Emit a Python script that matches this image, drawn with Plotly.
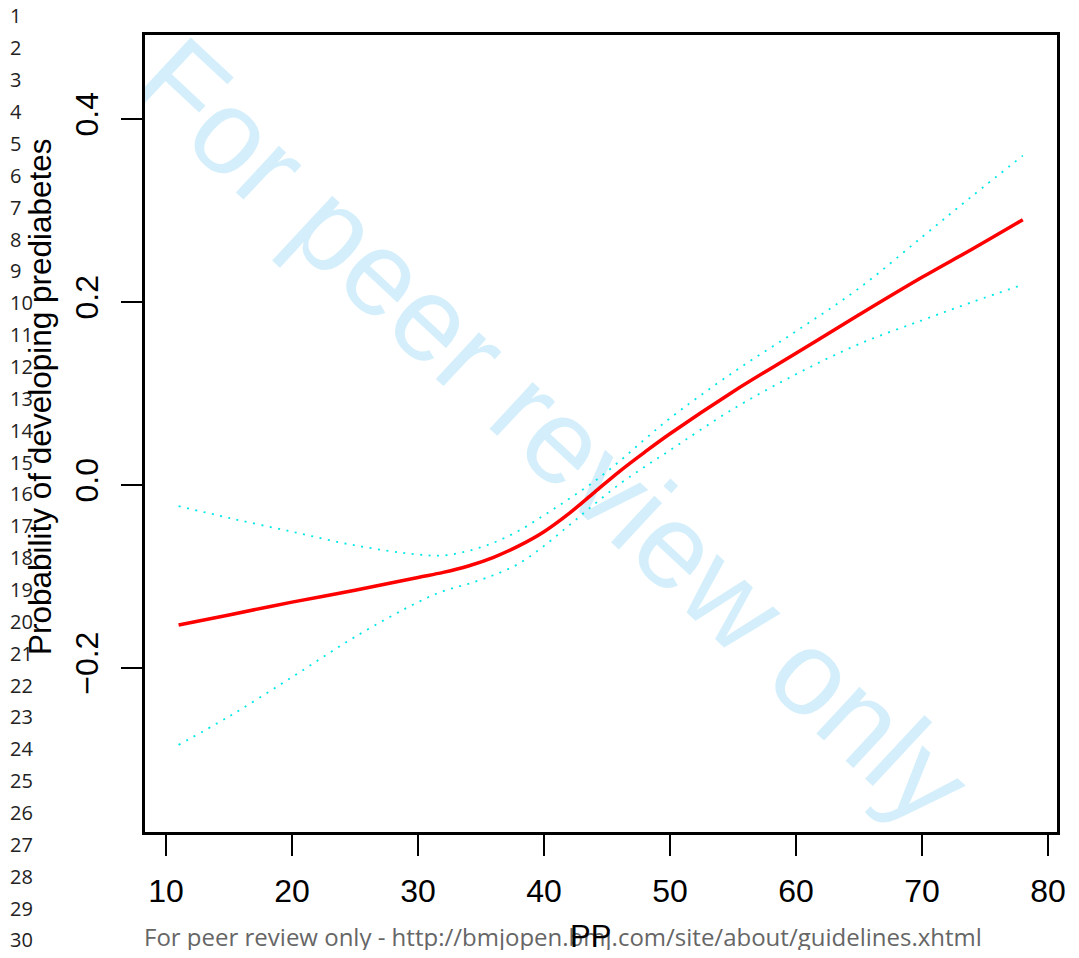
import plotly.graph_objects as go

# ---- data ----
pp = [11, 15, 20, 25, 30, 32, 34, 36, 38, 40, 42, 44, 46, 48, 50, 55, 60, 65, 70, 74, 78]
prob = [-0.153, -0.142, -0.128, -0.115, -0.101, -0.0955, -0.0885, -0.079, -0.0665, -0.051, -0.031, -0.008, 0.015, 0.036, 0.056, 0.102, 0.144, 0.186, 0.227, 0.258, 0.290]
upper = [-0.023, -0.036, -0.051, -0.066, -0.076, -0.077, -0.072, -0.063, -0.050, -0.033, -0.015, 0.004, 0.026, 0.050, 0.073, 0.123, 0.168, 0.215, 0.271, 0.316, 0.360]
lower = [-0.284, -0.253, -0.210, -0.166, -0.128, -0.116, -0.108, -0.0985, -0.086, -0.0665, -0.044, -0.021, 0.001, 0.020, 0.038, 0.083, 0.121, 0.154, 0.180, 0.200, 0.219]

x_ticks = [10, 20, 30, 40, 50, 60, 70, 80]
y_ticks = [-0.2, 0.0, 0.2, 0.4]
y_tick_labels = ["\u22120.2", "0.0", "0.2", "0.4"]
line_numbers = ["1", "2", "3", "4", "5", "6", "7", "8", "9", "10",
                "11", "12", "13", "14", "15", "16", "17", "18", "19", "20",
                "21", "22", "23", "24", "25", "26", "27", "28", "29", "30"]
x_title = "PP"
y_title = "Probability of developing prediabetes"
watermark = "For peer review only"
footer = "For peer review only - http://bmjopen.bmj.com/site/about/guidelines.xhtml"

# page offset (browser body margin) compensation
OFF = 8
W, H = 1079 - 2 * OFF, 958 - 2 * OFF
# plot box in target page pixels: x 145..1057, y 35..832
L = 145 - OFF
T = 35 - OFF
R = W - (1057 - OFF)
B = H - (832 - OFF)
pw, ph = W - L - R, H - T - B

def px_x(p):
    return (p - OFF - L) / pw

def px_y(p):
    return (H - B - (p - OFF)) / ph

# data <-> pixel mapping of the reference (for axis ranges)
def dx(p):
    return 10 + (p - 166) / 12.6

def dy(p):
    return (485 - p) / 915

ci_line = dict(color="#00e8e8", width=1.8, dash="2px,6.5px", shape="spline")
fig = go.Figure()
fig.add_trace(go.Scatter(x=pp, y=upper, mode="lines", line=ci_line, hoverinfo="skip"))
fig.add_trace(go.Scatter(x=pp, y=lower, mode="lines", line=ci_line, hoverinfo="skip"))
fig.add_trace(go.Scatter(x=pp, y=prob, mode="lines", line=dict(color="#ff0000", width=3.5, shape="spline"), hoverinfo="skip"))

# watermark below the data, as a label on an invisible line shape
fig.add_shape(type="line", xref="x", yref="y",
              x0=dx(150), y0=dy(40), x1=dx(972), y1=dy(806),
              line=dict(width=0, color="rgba(0,0,0,0)"), layer="below",
              label=dict(text=watermark, textposition="middle", yanchor="middle",
                         font=dict(family="Liberation Sans", size=120, color="#d4effb")))

annotations = []
for i, t in enumerate(line_numbers):
    annotations.append(dict(text=t, xref="paper", yref="paper", x=px_x(8), y=px_y(16 + i * 31.86),
                            showarrow=False, xanchor="left", yanchor="middle",
                            font=dict(family="Open Sans", size=20, color="#222222")))
annotations.append(dict(text=footer, xref="paper", yref="paper", x=px_x(563), y=px_y(937),
                        showarrow=False, xanchor="center", yanchor="middle",
                        font=dict(family="Open Sans", size=24, color="#666666")))
annotations.append(dict(text=x_title, xref="paper", yref="paper", x=px_x(590), y=px_y(937),
                        showarrow=False, xanchor="center", yanchor="middle",
                        font=dict(family="Liberation Sans", size=31, color="#000000")))
annotations.append(dict(text=y_title, xref="paper", yref="paper", x=px_x(40), y=px_y(397),
                        showarrow=False, xanchor="center", yanchor="middle", textangle=-90,
                        font=dict(family="Liberation Sans", size=31.5, color="#000000")))

fig.update_layout(
    width=W, height=H,
    margin=dict(l=L, r=R, t=T, b=B, autoexpand=False),
    paper_bgcolor="white", plot_bgcolor="rgba(0,0,0,0)",
    showlegend=False,
    annotations=annotations,
    xaxis=dict(range=[dx(145), dx(1057)], tickvals=x_ticks, ticktext=[str(v) for v in x_ticks],
               automargin=False,
               showgrid=False, zeroline=False, showline=True, linecolor="black", linewidth=2.5, mirror=True,
               ticks="outside", ticklen=21, tickwidth=2, tickcolor="black",
               tickfont=dict(family="Liberation Sans", size=32, color="black"), ticklabelstandoff=8),
    yaxis=dict(range=[dy(832), dy(35)], tickvals=y_ticks, ticktext=y_tick_labels, tickangle=-90,
               automargin=False,
               showgrid=False, zeroline=False, showline=True, linecolor="black", linewidth=2.5, mirror=True,
               ticks="outside", ticklen=21, tickwidth=2, tickcolor="black",
               tickfont=dict(family="Liberation Sans", size=32, color="black"), ticklabelstandoff=10),
)

fig.write_html("out.html")
